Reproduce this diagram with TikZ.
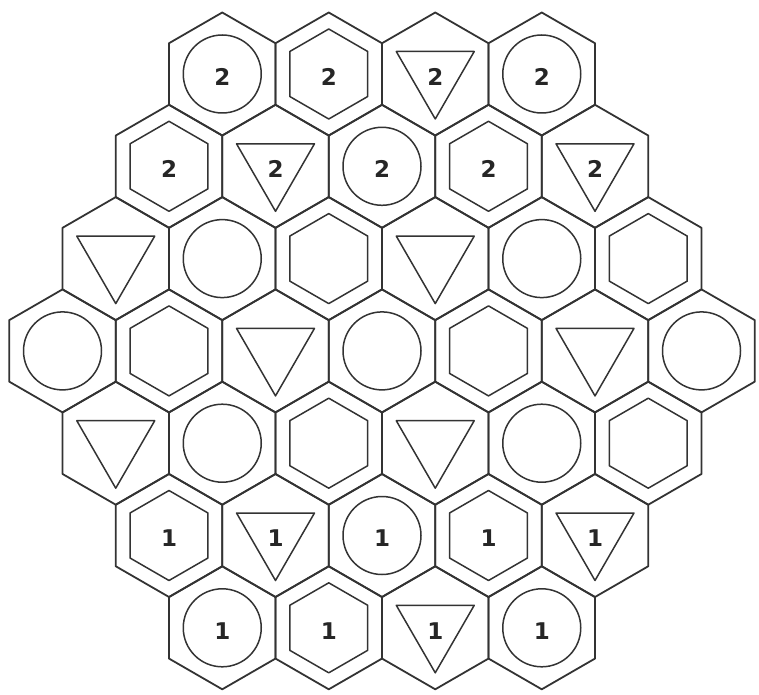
\documentclass[tikz,border=0pt]{standalone}
\usepackage{fontspec}
\setmainfont{DejaVu Sans}
\tikzset{
  cellhex/.style={draw=black!80, line width=1.8pt, line join=round},
  innershape/.style={draw=black!80, line width=1.5pt, line join=round},
  numlabel/.style={font=\bfseries\fontsize{23}{23}\selectfont, text=black!85, inner sep=0pt},
}
\newcommand\myshpc{\draw[innershape] (0,0) circle (39);}
\newcommand\myshph{\draw[innershape] (90:45) -- (150:45) -- (210:45) -- (270:45) -- (330:45) -- (30:45) -- cycle;}
\newcommand\myshpt{\draw[innershape] (270:45) -- (30:45) -- (150:45) -- cycle;}
\newcommand\rowcells[3]{%
  \foreach \s/\k [count=\i from 0] in {#3}{%
    \pgfmathsetmacro\cx{382+(\i-(#2-1)/2)*106.5}%
    \pgfmathsetmacro\cy{620-92.3*#1}%
    \begin{scope}[shift={(\cx,\cy)}]
      \coordinate (c-#1-\i) at (0,0);
      \draw[cellhex] (90:61.5) -- (150:61.5) -- (210:61.5) -- (270:61.5) -- (330:61.5) -- (30:61.5) -- cycle;
      \csname myshp\s\endcsname
      \node[numlabel] (n-#1-\i) at (0,-3) {\k};
    \end{scope}
  }%
}
\begin{document}
\begin{tikzpicture}[x=1pt,y=1pt]
\useasboundingbox (0,0) rectangle (759,694);
\rowcells{0}{4}{c/2,h/2,t/2,c/2}
\rowcells{1}{5}{h/2,t/2,c/2,h/2,t/2}
\rowcells{2}{6}{t/,c/,h/,t/,c/,h/}
\rowcells{3}{7}{c/,h/,t/,c/,h/,t/,c/}
\rowcells{4}{6}{t/,c/,h/,t/,c/,h/}
\rowcells{5}{5}{h/1,t/1,c/1,h/1,t/1}
\rowcells{6}{4}{c/1,h/1,t/1,c/1}
\end{tikzpicture}
\end{document}
